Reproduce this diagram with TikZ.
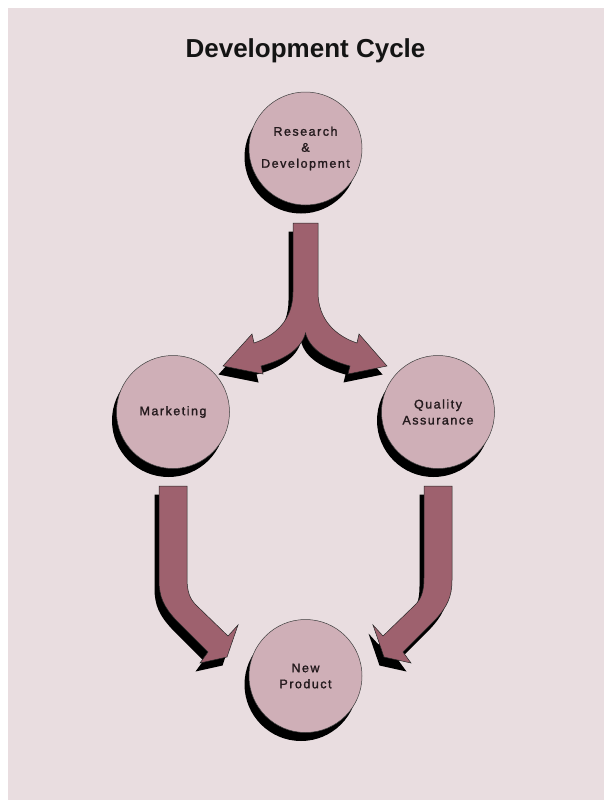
\documentclass[tikz,border=0pt]{standalone}
\usepackage{fontspec}
\setmainfont{Liberation Sans}
\newfontfamily\lblfont[LetterSpace=12,FakeBold=1.5]{Liberation Sans}
\usetikzlibrary{shadows}
\definecolor{bgpink}{HTML}{E9DDE0}
\definecolor{bubblefill}{HTML}{CFAFB7}
\definecolor{arrowfill}{HTML}{9E616E}
\definecolor{lbltext}{HTML}{241A1D}
\tikzset{
  blackshadow/.style={drop shadow={shadow xshift=-4.5pt,shadow yshift=-8.5pt,fill=black,opacity=1}},
  bubble/.style={circle,minimum size=113pt,inner sep=0pt,fill=bubblefill,
    draw=black!75,line width=0.5pt,blackshadow,align=center,text=lbltext,
    font=\lblfont\fontsize{12.5}{16}\selectfont},
  fatarrow/.style={fill=arrowfill,draw=black!85,line width=0.5pt,blackshadow}
}
\begin{document}
\begin{tikzpicture}[x=1pt,y=-1pt]
  % page and backdrop
  \fill[white] (0,0) rectangle (610,808);
  \useasboundingbox (0,0) rectangle (610,808);
  \fill[bgpink] (8,8) rectangle (604,800);
  \node[font=\bfseries\fontsize{26}{30}\selectfont,text=black!92] (title) at (305.5,51) {Development Cycle};
  % split arrow below R&D
  \draw[fatarrow] (293,223) -- (318,223) -- (318,292)
    .. controls (318,320) and (336,336) .. (357,343) -- (359,334) -- (387,366)
    -- (348,374) -- (350,366) .. controls (328,360) and (310,350) .. (305.5,333)
    .. controls (301,350) and (283,360) .. (261,366) -- (263,374) -- (223,366)
    -- (252,334) -- (254,343) .. controls (275,336) and (293,320) .. (293,292) -- cycle;
  % bent arrows into the new product
  \draw[fatarrow] (159,486) -- (187,486) -- (187,578)
    .. controls (187,592) and (190,599) .. (196,605) -- (228,636) -- (238,625)
    -- (227,657) -- (200,663) -- (208,652) -- (176,620)
    .. controls (164,607) and (159,597) .. (159,580) -- cycle;
  \draw[fatarrow] (452,486) -- (424,486) -- (424,578)
    .. controls (424,592) and (421,599) .. (415,605) -- (383,636) -- (373,625)
    -- (384,657) -- (411,663) -- (403,652) -- (435,620)
    .. controls (447,607) and (452,597) .. (452,580) -- cycle;
  % the four stages
  \node[bubble] (research) at (305.5,148.5) {Research\\\&\\Development};
  \node[bubble] (marketing) at (173,412) {Marketing};
  \node[bubble] (quality) at (438,412) {Quality\\Assurance};
  \node[bubble] (product) at (305.5,676) {New\\Product};
\end{tikzpicture}
\end{document}
